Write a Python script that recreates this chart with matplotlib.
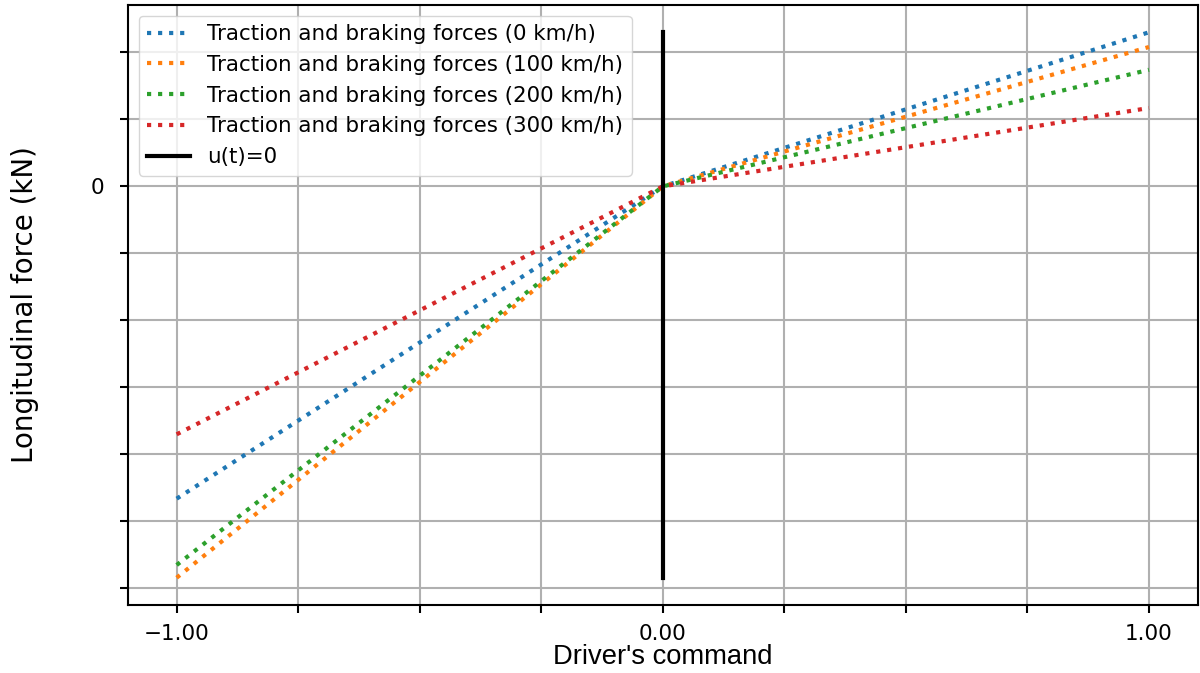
import numpy as np
import matplotlib
matplotlib.use("Agg")
import matplotlib.pyplot as plt
from matplotlib.ticker import MultipleLocator, FuncFormatter

# driver's command and the resulting longitudinal force (kN) at each speed
command = [-1.0, 0.0, 1.0]
speeds = [0, 100, 200, 300]
force_0 = [-466, 0, 230]
force_100 = [-584, 0, 208]
force_200 = [-565, 0, 174]
force_300 = [-370, 0, 117]
forces = [force_0, force_100, force_200, force_300]
colors = ['#1f77b4', '#ff7f0e', '#2ca02c', '#d62728']

fig = plt.figure(figsize=(12, 6.73), dpi=100)
ax = fig.add_axes([0.1067, 0.101, 0.8913, 0.8916])

for v, f, c in zip(speeds, forces, colors):
    ax.plot(command, f, ':', lw=3, color=c,
            label='Traction and braking forces (%d km/h)' % v)

fmin = min(min(f) for f in forces)
fmax = max(max(f) for f in forces)
ax.plot([0, 0], [fmin, fmax], '-', color='black', lw=3, label='u(t)=0')

ax.xaxis.set_major_locator(MultipleLocator(0.25))
ax.yaxis.set_major_locator(MultipleLocator(100))
ax.xaxis.set_major_formatter(FuncFormatter(
    lambda x, p: ('%.2f' % x).replace('-', '\u2212') if abs(x - round(x)) < 1e-9 else ''))
ax.yaxis.set_major_formatter(FuncFormatter(lambda y, p: '0' if abs(y) < 1e-9 else ''))

ax.grid(True, color='#b0b0b0', lw=1.5)
ax.set_axisbelow(True)
ax.tick_params(labelsize=15.5, length=6, width=1.5)
ax.tick_params(axis='x', pad=7.5)
ax.tick_params(axis='y', pad=11)
for s in ax.spines.values():
    s.set_linewidth(1.5)

ax.set_xlabel("Driver's command", fontsize=19.7, family='Liberation Sans', labelpad=0)
ax.set_ylabel('Longitudinal force (kN)', fontsize=20, labelpad=37)
ax.legend(loc='upper left', fontsize=15.4)

fig.savefig('out.png', dpi=100)
